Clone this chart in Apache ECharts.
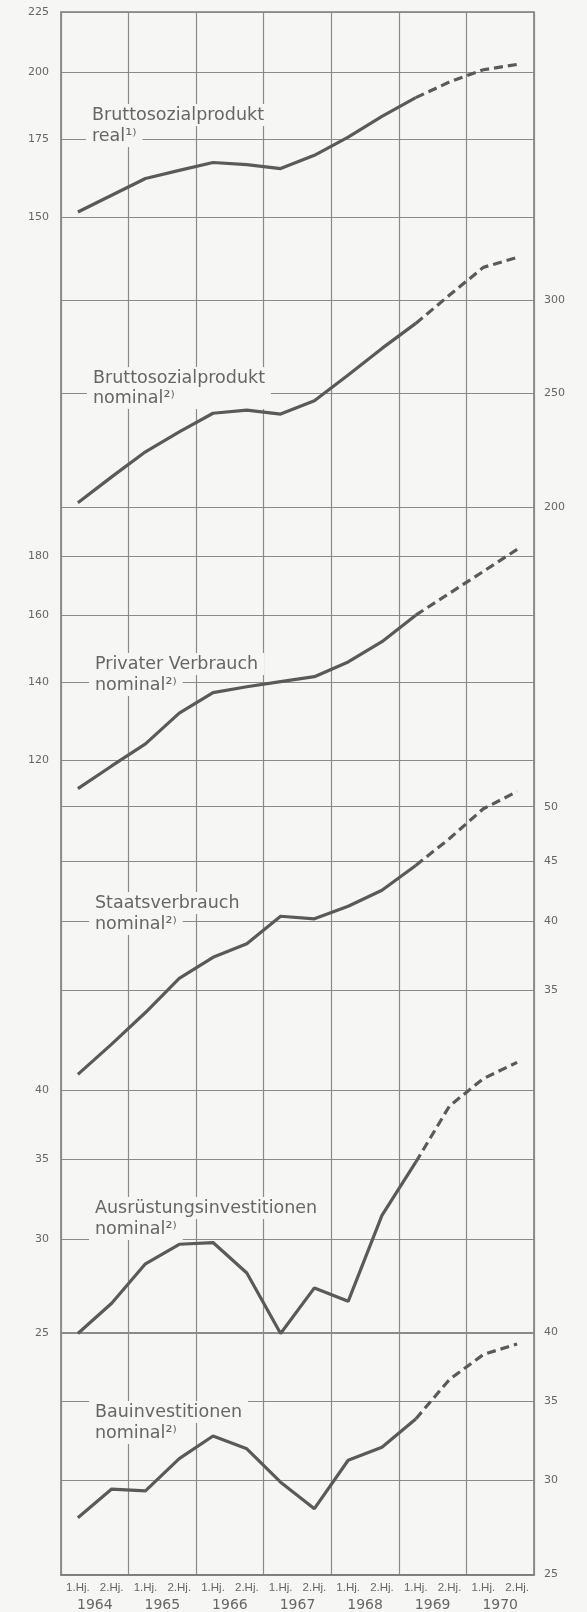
<!DOCTYPE html>
<html lang="de">
<head>
<meta charset="UTF-8">
<title>Bruttosozialprodukt und Verwendung 1964-1970</title>
<script src="https://cdn.jsdelivr.net/npm/echarts@6/dist/echarts.min.js"></script>
<style>
	html, body { margin: 0; padding: 0; background: #f6f6f4; }
	#app { width: 587px; height: 1612px; }
</style>
</head>
<body>
<div id="app"></div>
<script>
	// Halbjahre 1964-1970, ab 1. Hj. 1969 Schaetzung (gestrichelt)
	var halfYears = ['1.Hj.', '2.Hj.', '1.Hj.', '2.Hj.', '1.Hj.', '2.Hj.', '1.Hj.', '2.Hj.',
		'1.Hj.', '2.Hj.', '1.Hj.', '2.Hj.', '1.Hj.', '2.Hj.'];
	var years = ['1964', '1965', '1966', '1967', '1968', '1969', '1970'];
	var lastActual = 10;

	var bspReal = [151.6, 156.7, 162.0, 164.6, 167.2, 166.5, 165.2, 169.6, 175.8, 183.2, 190.1, 196.1, 200.9, 203.0];
	var bspNominal = [201.6, 212.1, 222.8, 231.7, 240.3, 241.8, 239.9, 246.3, 259.0, 272.9, 286.6, 303.0, 319.9, 326.2];
	var privatVerbrauch = [113.4, 118.6, 123.9, 131.7, 137.2, 138.8, 140.2, 141.6, 145.8, 151.8, 160.0, 167.1, 174.5, 182.3];
	var staatsVerbrauch = [29.7, 31.5, 33.5, 35.8, 37.3, 38.3, 40.4, 40.2, 41.2, 42.5, 44.6, 47.0, 49.8, 51.5];
	var ausruestung = [25.0, 26.5, 28.6, 29.7, 29.8, 28.1, 25.0, 27.3, 26.6, 31.4, 34.8, 38.8, 40.9, 42.2];
	var bau = [27.9, 29.5, 29.4, 31.3, 32.7, 31.9, 29.9, 28.4, 31.2, 32.0, 33.8, 36.5, 38.3, 39.1];

	var ticksReal = [150, 175, 200, 225];
	var ticksNominal = [200, 250, 300];
	var ticksPrivat = [120, 140, 160, 180];
	var ticksStaat = [35, 40, 45, 50];
	var ticksAusr = [25, 30, 35, 40];
	var ticksBau = [25, 30, 35, 40];

	var names = [
		['Bruttosozialprodukt', 'real¹⁾'],
		['Bruttosozialprodukt', 'nominal²⁾'],
		['Privater Verbrauch', 'nominal²⁾'],
		['Staatsverbrauch', 'nominal²⁾'],
		['Ausrüstungsinvestitionen', 'nominal²⁾'],
		['Bauinvestitionen', 'nominal²⁾']
	];

	var BG = '#f6f6f4', GRID = '#8a8a8a', INK = '#5a5a5a', TXT = '#666';
	var FONT = '"DejaVu Sans", sans-serif';

	var myChart = echarts.init(document.getElementById('app'));

	function yAx(pos, min, max, ticks, margin) {
		return {
			type: 'log', logBase: 10, position: pos, min: min, max: max,
			axisLine: { show: false },
			axisTick: { show: false, customValues: ticks },
			axisLabel: { customValues: ticks, margin: margin, color: TXT, fontSize: 11, fontFamily: 'DejaVu Sans' },
			splitLine: { show: true, lineStyle: { color: GRID, width: 1.2 } }
		};
	}

	// je Reihe: Ist-Werte durchgezogen, Schaetzung gestrichelt
	var series = [];
	[bspReal, bspNominal, privatVerbrauch, staatsVerbrauch, ausruestung, bau].forEach(function (d, k) {
		series.push({
			type: 'line', yAxisIndex: k, symbol: 'none', silent: true,
			data: d.map(function (v, i) { return i <= lastActual ? v : null; }),
			lineStyle: { color: INK, width: 3.2 }
		});
		series.push({
			type: 'line', yAxisIndex: k, symbol: 'none', silent: true,
			data: d.map(function (v, i) { return i >= lastActual ? v : null; }),
			lineStyle: { color: INK, width: 3.2, type: [9, 5] }
		});
	});

	// Beschriftungen der Kurven: [x, y Mitte 1. Zeile, Block-Hintergrund]
	var labelPos = [[92, 115, false], [93, 378, true], [95, 664, false], [95, 903, false], [95, 1208, false], [95, 1412, false]];
	var graphic = [];
	names.forEach(function (n, k) {
		var p = labelPos[k];
		var st = { fill: TXT, fontSize: 17.5, fontFamily: FONT, backgroundColor: BG, padding: [1, 6, 1, 6],
			align: 'left', verticalAlign: 'middle', lineHeight: 20 };
		if (p[2]) {
			graphic.push({ type: 'text', x: p[0] - 6, y: p[1] + 10, z: 1, silent: true,
				style: Object.assign({ text: n[0] + '\n' + n[1] }, st) });
		} else {
			graphic.push({ type: 'text', x: p[0] - 6, y: p[1], z: 1, silent: true,
				style: Object.assign({ text: n[0] }, st) });
			graphic.push({ type: 'text', x: p[0] - 6, y: p[1] + 21, z: 1, silent: true,
				style: Object.assign({ text: n[1] }, st) });
		}
	});

	var option = {
		backgroundColor: BG,
		animation: false,
		grid: { left: 61, right: 53, top: 12, bottom: 37, show: true, borderColor: '#7a7a7a', borderWidth: 1.6 },
		xAxis: [
			{
				type: 'category', data: halfYears, position: 'bottom',
				axisLine: { lineStyle: { color: '#7a7a7a', width: 1.6 } },
				axisTick: { inside: true, length: 11, interval: 0, lineStyle: { color: GRID } },
				axisLabel: { interval: 0, margin: 7, color: TXT, fontSize: 11.5, fontFamily: 'Liberation Sans' },
				splitLine: { show: false }
			},
			{
				type: 'category', data: years, position: 'bottom',
				axisLine: { show: false },
				axisTick: { length: 40, interval: 0, lineStyle: { color: GRID, width: 1.2 } },
				axisLabel: { interval: 0, margin: 23, color: TXT, fontSize: 14, fontFamily: 'DejaVu Sans' },
				splitLine: { show: true, interval: 0, lineStyle: { color: GRID, width: 1.2 } }
			}
		],
		yAxis: [
			yAx('left', 10.22, 225.2, ticksReal, 12),
			yAx('right', 24.61, 527.9, ticksNominal, 10),
			yAx('left', 23.80, 529.8, ticksPrivat, 12),
			yAx('right', 11.21, 234.8, ticksStaat, 10),
			yAx('left', 15.68, 320.9, ticksAusr, 12),
			yAx('right', 24.97, 518.4, ticksBau, 10)
		],
		graphic: graphic,
		series: series
	};
	myChart.setOption(option);
</script>
</body>
</html>
